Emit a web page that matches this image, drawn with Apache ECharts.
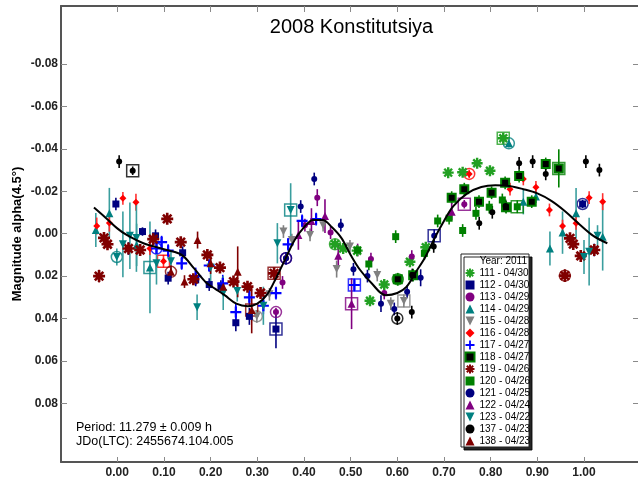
<!DOCTYPE html>
<html>
<head>
<meta charset="utf-8">
<title>2008 Konstitutsiya</title>
<script src="https://cdn.jsdelivr.net/npm/echarts@6/dist/echarts.min.js"></script>
<style>
  html, body { margin: 0; padding: 0; background: #fff; }
  #chart { width: 638px; height: 484px; }
</style>
</head>
<body>
<div id="chart"></div>
<script>
// Tick positions
const xTicks = [0.0, 0.1, 0.2, 0.3, 0.4, 0.5, 0.6, 0.7, 0.8, 0.9, 1.0];
const yTicks = [-0.08, -0.06, -0.04, -0.02, 0.0, 0.02, 0.04, 0.06, 0.08];

// Fourier fit of the lightcurve (phase, magnitude)
const fitPhase = [-0.05, -0.025, 0.0, 0.02, 0.056, 0.106, 0.138, 0.165, 0.19, 0.21, 0.23, 0.255, 0.28, 0.30, 0.32, 0.34, 0.36, 0.38, 0.40, 0.42, 0.44, 0.46, 0.48, 0.50, 0.52, 0.545, 0.575, 0.60, 0.62, 0.64, 0.66, 0.68, 0.70, 0.72, 0.75, 0.78, 0.81, 0.84, 0.87, 0.90, 0.93, 0.96, 0.99, 1.02, 1.05];
const fitMag = [-0.0123, -0.0075, -0.0025, 0.0006, 0.0045, 0.0077, 0.010, 0.0165, 0.023, 0.026, 0.029, 0.033, 0.0342, 0.033, 0.029, 0.021, 0.012, 0.003, -0.003, -0.0065, -0.0065, -0.003, 0.002, 0.010, 0.017, 0.0234, 0.029, 0.028, 0.025, 0.018, 0.011, 0.002, -0.006, -0.013, -0.019, -0.022, -0.0228, -0.0225, -0.021, -0.019, -0.0155, -0.0105, -0.0045, 0.001, 0.0045];

// Sessions: [phase, magnitude, error, flag]  flag 1 = first point (box), 2 = last point (ring)
const s111 = [[0.4665,0.005,0,2],[0.484,0.007,0,0],[0.514,0.008,0,0],[0.5415,0.0316,0,0],[0.572,0.024,0,0],[0.627,0.0132,0,0],[0.661,0.0064,0,0],[0.709,-0.0288,0,0],[0.740,-0.029,0,0],[0.771,-0.0332,0,0],[0.7985,-0.0297,0,0],[0.827,-0.045,0,1]];
const s112 = [[-0.003,-0.014,0.003,0],[0.024,0.007,0.003,0],[0.054,-0.001,0.002,0],[0.082,0.001,0.003,0],[0.109,0.021,0.003,0],[0.140,0.009,0.003,0],[0.168,0.0218,0.003,0],[0.197,0.024,0.003,0],[0.222,0.025,0.003,0],[0.254,0.042,0.004,0],[0.283,0.039,0.004,0],[0.340,0.045,0.009,1],[0.997,-0.014,0.002,2],[1.022,0.0077,0.003,0]];
const s113 = [[0.340,0.037,0.002,2],[0.354,0.023,0.003,0],[0.3615,0.0116,0.002,2],[0.402,-0.004,0.003,0],[0.4285,-0.017,0.004,0],[0.457,-0.0005,0.003,0],[0.515,0.0077,0.003,0],[0.5435,0.012,0.003,0],[0.572,0.028,0.003,0],[0.631,0.0108,0.003,0],[0.7435,-0.0139,0.002,1]];
const s114 = [[-0.046,-0.0017,0.008,0],[-0.017,-0.0096,0.012,0],[0.0415,0.0053,0.010,0],[0.070,0.0159,0.0216,1],[0.839,-0.0426,0.002,2],[0.870,-0.0151,0.006,0],[0.897,-0.0175,0.003,0],[0.927,0.007,0.008,0],[0.954,-0.0005,0.010,0],[0.983,-0.0096,0.012,0],[1.040,0.0014,0.016,0]];
const s115 = [[0.299,0.039,0.003,2],[0.326,0.0286,0.003,0],[0.356,-0.001,0.003,0],[0.374,0.003,0.003,0],[0.413,0.0006,0.003,0],[0.441,-0.004,0.003,0],[0.470,0.0167,0.004,0],[0.4985,0.006,0.003,0],[0.557,0.0195,0.003,0],[0.586,0.033,0.003,0],[0.614,0.0317,0.003,1]];
const s116 = [[-0.044,-0.0036,0.004,0],[-0.017,-0.005,0.004,0],[0.012,-0.0167,0.003,0],[0.040,-0.0148,0.004,0],[0.070,0.007,0.003,0],[0.099,0.013,0.003,1],[0.754,-0.0282,0.002,2],[0.8415,-0.021,0.003,0],[0.870,-0.0258,0.003,0],[0.897,-0.0219,0.003,0],[0.926,-0.0112,0.003,0],[0.954,-0.0036,0.003,0],[0.983,-0.0049,0.003,0],[1.011,-0.017,0.003,0],[1.040,-0.0151,0.004,0]];
const s117 = [[0.084,0.007,0.003,2],[0.095,0.004,0.003,0],[0.109,0.008,0.003,0],[0.138,0.014,0.003,0],[0.168,0.020,0.004,0],[0.197,0.015,0.003,0],[0.226,0.0234,0.004,0],[0.254,0.037,0.004,0],[0.283,0.030,0.004,0],[0.313,0.034,0.004,0],[0.340,0.028,0.003,0],[0.366,0.005,0.003,0],[0.396,-0.006,0.003,0],[0.426,-0.0069,0.003,0],[0.508,0.0242,0.003,1]];
const s118 = [[0.601,0.0215,0.003,2],[0.634,0.0196,0.003,0],[0.7165,-0.017,0.003,0],[0.7435,-0.021,0.003,0],[0.775,-0.0151,0.003,0],[0.802,-0.0193,0.003,0],[0.831,-0.024,0.003,0],[0.833,-0.0125,0.003,0],[0.861,-0.0272,0.003,0],[0.888,-0.0151,0.003,0],[0.918,-0.0329,0.003,0],[0.946,-0.0308,0.009,1]];
const s119 = [[-0.039,0.020,0.003,0],[-0.0285,0.002,0,0],[-0.021,0.005,0,0],[0.024,0.007,0,0],[0.049,0.0077,0,0],[0.077,0.0026,0,0],[0.107,-0.007,0,0],[0.136,0.004,0,0],[0.163,0.0215,0,0],[0.193,0.010,0,0],[0.220,0.016,0,0],[0.249,0.0226,0,0],[0.279,0.025,0,0],[0.307,0.028,0,0],[0.336,0.0187,0,1],[0.959,0.0198,0.003,2],[0.970,0.0022,0,0],[0.977,0.0049,0,0],[0.993,0.0105,0,0],[1.022,0.0077,0,0]];
const s120 = [[0.515,0.0077,0.002,0],[0.539,0.0143,0.003,0],[0.5965,0.0014,0.003,0],[0.658,0.0093,0.003,0],[0.6865,-0.006,0.003,0],[0.711,-0.0073,0.003,0],[0.740,-0.0015,0.003,0],[0.7685,-0.0096,0.003,0],[0.797,-0.0125,0.003,0],[0.825,-0.0159,0.003,0],[0.857,-0.0127,0.003,1]];
const s121 = [[0.3615,0.0116,0.003,2],[0.393,-0.0128,0.003,0],[0.422,-0.0258,0.003,0],[0.479,-0.004,0.003,0],[0.506,0.0168,0.003,0],[0.536,0.020,0.003,0],[0.565,0.033,0.004,0],[0.5935,0.0355,0.003,0],[0.621,0.0274,0.003,0],[0.650,0.0208,0.004,0],[0.679,0.001,0.003,1]];
const s122 = [[0.388,0.0006,0.007,0],[0.416,-0.006,0.006,0],[0.445,-0.0083,0.008,0],[0.4735,0.0104,0.006,0],[0.502,0.033,0.012,1],[0.7165,-0.0104,0.004,0]];
const s123 = [[-0.001,0.011,0.004,2],[0.012,0.005,0.0155,0],[0.027,0.001,0.0157,0],[0.041,0.002,0.016,0],[0.084,0.014,0.010,0],[0.115,0.013,0.005,0],[0.171,0.0347,0.006,0],[0.200,0.016,0.007,0],[0.227,0.028,0.008,0],[0.257,0.027,0.005,0],[0.313,0.034,0.009,0],[0.343,0.0045,0.0095,0],[0.3715,-0.0112,0.0126,1],[1.000,0.011,0.008,0],[1.011,0.0085,0.016,0],[1.029,0.001,0.005,0]];
const s137 = [[0.004,-0.034,0.003,0],[0.033,-0.0297,0.002,1],[0.600,0.040,0.003,2],[0.631,0.037,0.003,0],[0.632,0.0195,0.003,0],[0.678,0.006,0.003,0],[0.7755,-0.0049,0.003,0],[0.8035,-0.0101,0.003,0],[0.832,-0.0131,0.003,0],[0.861,-0.0332,0.003,0],[0.890,-0.034,0.003,0],[0.918,-0.0282,0.003,0],[1.004,-0.034,0.003,0],[1.033,-0.030,0.003,0]];
const s138 = [[0.115,0.018,0.003,2],[0.144,0.0226,0.003,0],[0.172,0.003,0.004,0],[0.200,0.014,0.005,0],[0.227,0.025,0.004,0],[0.258,0.018,0.012,0],[0.288,0.036,0.011,1]];

const sessionNames = ['111 - 04/30','112 - 04/30','113 - 04/29','114 - 04/29','115 - 04/28','116 - 04/28','117 - 04/27','118 - 04/27','119 - 04/26','120 - 04/26','121 - 04/25','122 - 04/24','123 - 04/22','137 - 04/23','138 - 04/23'];
const sessionData = [s111, s112, s113, s114, s115, s116, s117, s118, s119, s120, s121, s122, s123, s137, s138];

// Marker shapes: asterisk made of thin bars through the centre
function spokes(n, halfWidth) {
  let p = 'path://';
  for (let i = 0; i < n; i++) {
    const a = Math.PI * i / n, c = Math.cos(a), s = Math.sin(a);
    const pts = [[-50, -halfWidth], [50, -halfWidth], [50, halfWidth], [-50, halfWidth]]
      .map(([x, y]) => [(50 + x * c - y * s).toFixed(2), (50 + x * s + y * c).toFixed(2)]);
    p += 'M' + pts.map(q => q.join(',')).join('L') + 'Z';
  }
  return p;
}
const ASTERISK = spokes(4, 11);
const PLUS = 'path://M40,0L60,0L60,40L100,40L100,60L60,60L60,100L40,100L40,60L0,60L0,40L40,40Z';
const TRI_DOWN = 'path://M0,0L100,0L50,100Z';

// Per-session look: symbol, size, fill, border, error-bar colour
const looks = [
  { symbol: ASTERISK, size: 11, color: '#22a022', bar: '#22a022' },
  { symbol: 'rect', size: 7, color: '#000080', bar: '#000080' },
  { symbol: 'circle', size: 6, color: '#800080', bar: '#800080' },
  { symbol: 'triangle', size: 8, color: '#008080', bar: '#3a9e9e' },
  { symbol: TRI_DOWN, size: 8, color: '#808080', bar: '#808080' },
  { symbol: 'diamond', size: 7, color: '#ff0000', bar: '#ff3030' },
  { symbol: PLUS, size: 11, color: '#0000ff', bar: '#0000ff' },
  { symbol: 'rect', size: 8, color: '#000000', border: '#008000', bar: '#008000' },
  { symbol: ASTERISK, size: 12, color: '#800000', bar: '#800000' },
  { symbol: 'rect', size: 7, color: '#008000', bar: '#008000' },
  { symbol: 'circle', size: 6, color: '#000080', bar: '#000080' },
  { symbol: 'triangle', size: 8, color: '#800080', bar: '#800080' },
  { symbol: TRI_DOWN, size: 8, color: '#008080', bar: '#3a9e9e' },
  { symbol: 'circle', size: 6, color: '#000000', bar: '#000000' },
  { symbol: 'triangle', size: 8, color: '#800000', bar: '#800000' }
];

function errorAndFrame(look) {
  const outline = look.border || look.color;
  return function (params, api) {
    const x = api.value(0), y = api.value(1), e = api.value(2), m = api.value(3);
    const kids = [];
    if (e > 0) {
      const a = api.coord([x, y - e]), b = api.coord([x, y + e]);
      kids.push({ type: 'line', shape: { x1: a[0], y1: a[1], x2: b[0], y2: b[1] },
        style: { stroke: look.bar, lineWidth: 1.6 } });
    }
    const c = api.coord([x, y]);
    if (m === 1) {
      kids.push({ type: 'rect', shape: { x: c[0] - 6, y: c[1] - 6, width: 12, height: 12 },
        style: { fill: 'none', stroke: outline, lineWidth: 1.5, opacity: 0.8 } });
    } else if (m === 2) {
      kids.push({ type: 'circle', shape: { cx: c[0], cy: c[1], r: 5.5 },
        style: { fill: 'none', stroke: outline, lineWidth: 1.5, opacity: 0.8 } });
    }
    return { type: 'group', children: kids };
  };
}

const FONT = "'Liberation Sans', Arial, sans-serif";
const series = [];
sessionData.forEach((data, i) => {
  const look = looks[i];
  series.push({
    name: sessionNames[i] + ' bars',
    type: 'custom',
    data: data,
    dimensions: ['phase', 'mag', 'err', 'flag'],
    encode: { x: 0, y: 1 },
    renderItem: errorAndFrame(look),
    z: 2,
    silent: true
  });
});
sessionData.forEach((data, i) => {
  const look = looks[i];
  series.push({
    name: sessionNames[i],
    type: 'scatter',
    data: data,
    symbol: look.symbol,
    symbolSize: look.size,
    itemStyle: look.border
      ? { color: look.color, borderColor: look.border, borderWidth: 2, opacity: 1 }
      : { color: look.color, opacity: 1 },
    z: 3,
    silent: true
  });
});
series.push({
  name: 'fit',
  type: 'line',
  data: fitPhase.map((p, i) => [p, fitMag[i]]),
  smooth: 0.35,
  showSymbol: false,
  lineStyle: { color: '#000', width: 2 },
  z: 4,
  silent: true
});

const chart = echarts.init(document.getElementById('chart'), null, { renderer: 'canvas' });
const axisLine = { show: true, onZero: false, lineStyle: { color: '#555', width: 2 } };
const tickStyle = { color: '#8a8a8a', width: 1 };

chart.setOption({
  animation: false,
  backgroundColor: '#fff',
  grid: { left: 61, right: 0, top: 6, bottom: 22, containLabel: false },
  xAxis: [
    {
      type: 'value', position: 'bottom', min: -0.1206, max: 1.1157,
      axisLine: axisLine,
      axisTick: { show: true, inside: true, length: 5, customValues: xTicks, lineStyle: tickStyle },
      axisLabel: { show: true, customValues: xTicks, margin: 5, fontFamily: FONT, fontSize: 12, fontWeight: 'bold', color: '#222',
        formatter: v => v.toFixed(2) },
      splitLine: { show: false }
    },
    {
      type: 'value', position: 'top', min: -0.1206, max: 1.1157,
      axisLine: axisLine,
      axisTick: { show: true, inside: true, length: 6, customValues: xTicks, lineStyle: tickStyle },
      axisLabel: { show: false },
      splitLine: { show: false }
    }
  ],
  yAxis: [
    {
      type: 'value', position: 'left', inverse: true, min: -0.1074, max: 0.1077,
      axisLine: axisLine,
      axisTick: { show: true, inside: true, length: 6, customValues: yTicks, lineStyle: tickStyle },
      axisLabel: { show: true, customValues: yTicks, margin: 3, fontFamily: FONT, fontSize: 12, fontWeight: 'bold', color: '#222',
        formatter: v => v.toFixed(2) },
      splitLine: { show: false }
    },
    {
      type: 'value', position: 'right', inverse: true, min: -0.1074, max: 0.1077,
      axisLine: { show: false, onZero: false },
      axisTick: { show: true, inside: true, length: 5, customValues: yTicks, lineStyle: tickStyle },
      axisLabel: { show: false },
      splitLine: { show: false }
    }
  ],
  legend: {
    data: sessionNames,
    orient: 'vertical',
    left: 464.5,
    top: 267,
    itemWidth: 9,
    itemHeight: 9,
    itemGap: 0,
    padding: 0,
    selectedMode: false,
    textStyle: { fontFamily: FONT, fontSize: 10, color: '#000', lineHeight: 12, padding: [0, 0, 0, 0] },
    z: 20
  },
  graphic: [
    { type: 'text', x: 351.5, y: 27, z: 30,
      style: { text: '2008 Konstitutsiya', font: "20px 'Liberation Sans', Arial, sans-serif", fill: '#000', textAlign: 'center', textVerticalAlign: 'middle' } },
    { type: 'text', x: 17, y: 234, rotation: Math.PI / 2, z: 30,
      style: { text: 'Magnitude alpha(4.5°)', font: "bold 13px 'Liberation Sans', Arial, sans-serif", fill: '#000', textAlign: 'center', textVerticalAlign: 'middle' } },
    { type: 'text', x: 76, y: 428, z: 30,
      style: { text: 'Period: 11.279 ± 0.009 h', font: "12.5px 'Liberation Sans', Arial, sans-serif", fill: '#000', textAlign: 'left', textVerticalAlign: 'middle' } },
    { type: 'text', x: 76, y: 442, z: 30,
      style: { text: 'JDo(LTC): 2455674.104.005', font: "12.5px 'Liberation Sans', Arial, sans-serif", fill: '#000', textAlign: 'left', textVerticalAlign: 'middle' } },
    { type: 'rect', z: 15, shape: { x: 461, y: 254, width: 68, height: 193 },
      style: { fill: '#fff', stroke: '#222', lineWidth: 1, shadowColor: 'rgba(0,0,0,0.85)', shadowOffsetX: 3, shadowOffsetY: 3, shadowBlur: 0 } },
    { type: 'text', x: 527, y: 261, z: 30,
      style: { text: 'Year: 2011', font: "10px 'Liberation Sans', Arial, sans-serif", fill: '#000', textAlign: 'right', textVerticalAlign: 'middle' } }
  ],
  series: series
});
</script>
</body>
</html>
